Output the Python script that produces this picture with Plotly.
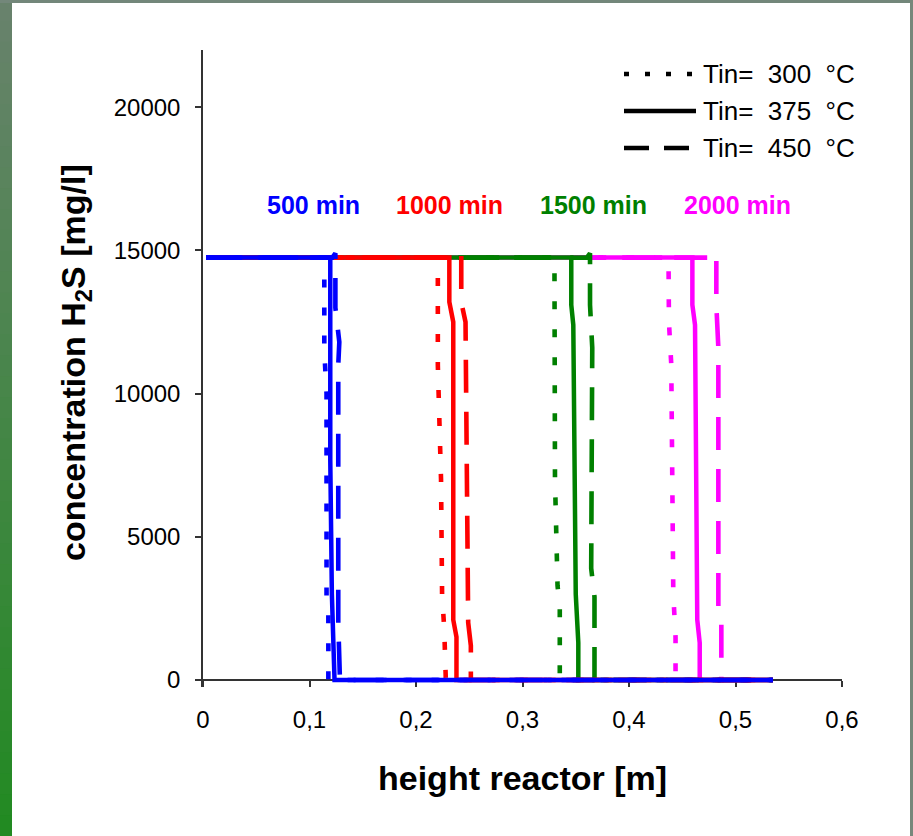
import plotly.graph_objects as go

# H2S concentration profiles along the reactor height at four times,
# for three inlet temperatures each.
times_min = [500, 1000, 1500, 2000]
time_colors = ["#0000FF", "#FF0000", "#008000", "#FF00FF"]
tin_labels = ["Tin= 300 °C", "Tin= 375 °C", "Tin= 450 °C"]

x_tickvals = [0, 0.1, 0.2, 0.3, 0.4, 0.5, 0.6]
x_ticktext = ["0", "0,1", "0,2", "0,3", "0,4", "0,5", "0,6"]
y_tickvals = [0, 5000, 10000, 15000, 20000]
y_ticktext = ["0", "5000", "10000", "15000", "20000"]

# 500 min
h_500_300 = [0.003, 0.1139, 0.1139, 0.1160, 0.1160, 0.1177, 0.1177, 0.535]
c_500_300 = [14750, 14750, 11500, 10000, 2800, 2500, 0, 0]
h_500_375 = [0.003, 0.1195, 0.1195, 0.1210, 0.1235, 0.535]
c_500_375 = [14750, 14750, 7700, 3000, 0, 0]
h_500_450 = [0.003, 0.1215, 0.1243, 0.1243, 0.1280, 0.1270, 0.1270, 0.1286, 0.1286, 0.535]
c_500_450 = [14750, 14750, 14900, 13000, 11800, 11000, 2000, 800, 0, 0]

# 1000 min
h_1000_300 = [0.003, 0.2205, 0.2205, 0.2235, 0.2245, 0.2265, 0.2280, 0.535]
c_1000_300 = [14750, 14750, 11000, 7000, 3000, 1800, 0, 0]
h_1000_375 = [0.003, 0.2313, 0.2313, 0.2350, 0.2350, 0.2380, 0.2380, 0.535]
c_1000_375 = [14750, 14750, 13200, 12500, 2100, 1500, 0, 0]
h_1000_450 = [0.003, 0.2395, 0.2425, 0.2425, 0.2465, 0.2490, 0.2490, 0.2515, 0.2515, 0.535]
c_1000_450 = [14750, 14750, 14900, 13200, 12500, 4000, 2000, 1200, 0, 0]

# 1500 min
h_1500_300 = [0.003, 0.3300, 0.3305, 0.3329, 0.3350, 0.3350, 0.535]
c_1500_300 = [14750, 14750, 7000, 3300, 2500, 0, 0]
h_1500_375 = [0.003, 0.3458, 0.3458, 0.3477, 0.3500, 0.3524, 0.3524, 0.535]
c_1500_375 = [14750, 14750, 13100, 12400, 3000, 1300, 0, 0]
h_1500_450 = [0.003, 0.3605, 0.3634, 0.3634, 0.3655, 0.3645, 0.3676, 0.3676, 0.535]
c_1500_450 = [14750, 14750, 14900, 13100, 11600, 3900, 2900, 0, 0]

# 2000 min
h_2000_300 = [0.003, 0.4371, 0.4375, 0.4397, 0.4416, 0.4437, 0.4437, 0.535]
c_2000_300 = [14750, 14750, 12500, 11000, 3000, 1500, 0, 0]
h_2000_375 = [0.003, 0.4595, 0.4595, 0.4620, 0.4641, 0.4664, 0.4664, 0.535]
c_2000_375 = [14750, 14750, 13100, 12400, 2100, 1300, 0, 0]
h_2000_450 = [0.003, 0.4790, 0.4820, 0.4820, 0.4839, 0.4839, 0.4867, 0.4867, 0.535]
c_2000_450 = [14750, 14750, 14900, 13100, 11600, 2500, 2000, 0, 0]

profiles = {
    500: [(h_500_300, c_500_300), (h_500_375, c_500_375), (h_500_450, c_500_450)],
    1000: [(h_1000_300, c_1000_300), (h_1000_375, c_1000_375), (h_1000_450, c_1000_450)],
    1500: [(h_1500_300, c_1500_300), (h_1500_375, c_1500_375), (h_1500_450, c_1500_450)],
    2000: [(h_2000_300, c_2000_300), (h_2000_375, c_2000_375), (h_2000_450, c_2000_450)],
}

# time labels placed above each front
label_x = [0.1033, 0.2315, 0.3667, 0.5023]
label_y = 16580

FONT = "Liberation Sans, Arial, sans-serif"
W, H = 913, 836
ML, MR, MT, MB = 203, 71, 50, 149
PW, PH = W - ML - MR, H - MT - MB

# a few pixels of room under y = 0 so the zero-level lines are not cut
BELOW_ZERO_PX = 7
Y_TOP = 22000
y_per_px = Y_TOP / (PH - BELOW_ZERO_PX)
Y_BOTTOM = -BELOW_ZERO_PX * y_per_px


def px_x(px):
    return (px - ML) / PW


def px_y(py):
    return (H - MB - py) / PH


dash_styles = ["8px,20px", "solid", "33px,19px"]
widths = [4.6, 4.5, 4.6]

fig = go.Figure()

# later times drawn first so the earlier profiles sit on top
for t, col in reversed(list(zip(times_min, time_colors))):
    for (h, c), dash, w, name in zip(profiles[t], dash_styles, widths, tin_labels):
        fig.add_trace(go.Scatter(
            x=h, y=c, mode="lines",
            line=dict(color=col, width=w, dash=dash),
            name=f"{t} min, {name}", showlegend=False, hoverinfo="skip",
        ))

for t, col, lx in zip(times_min, time_colors, label_x):
    fig.add_annotation(
        x=lx, y=label_y, xref="x", yref="y", text=f"<b>{t} min</b>",
        showarrow=False, font=dict(family=FONT, size=25, color=col),
        xanchor="center", yanchor="middle",
    )

shapes = []

# frame around the page: green band on the left, grey-green on top and right
n_band = 40
top_rgb = (104, 130, 108)
bot_rgb = (34, 138, 34)
for i in range(n_band):
    f = i / (n_band - 1)
    rgb = tuple(round(a + (b - a) * f) for a, b in zip(top_rgb, bot_rgb))
    y0 = i * H / n_band
    y1 = (i + 1) * H / n_band + 1
    shapes.append(dict(
        type="rect", xref="paper", yref="paper",
        x0=px_x(0), x1=px_x(12), y0=px_y(y1), y1=px_y(y0),
        fillcolor="rgb(%d,%d,%d)" % rgb, line=dict(width=0), layer="below",
    ))
shapes.append(dict(type="rect", xref="paper", yref="paper",
                   x0=px_x(0), x1=px_x(W), y0=px_y(3), y1=px_y(0),
                   fillcolor="#73877a", line=dict(width=0), layer="below"))
shapes.append(dict(type="rect", xref="paper", yref="paper",
                   x0=px_x(910), x1=px_x(W), y0=px_y(H), y1=px_y(0),
                   fillcolor="#77887b", line=dict(width=0), layer="below"))

# legend keys for the three inlet temperatures
NB = "\u00a0"
legend_rows = [74, 111, 148]
legend_dash = ["5px,16px", "solid", "25px,15px"]
legend_text = [lab.replace("= ", "=" + NB * 2).replace(" °", NB * 2 + "°") for lab in tin_labels]
for row, dash, lab in zip(legend_rows, legend_dash, legend_text):
    shapes.append(dict(
        type="line", xref="paper", yref="paper",
        x0=px_x(624), x1=px_x(696), y0=px_y(row), y1=px_y(row),
        line=dict(color="black", width=4.5, dash=dash),
    ))
    fig.add_annotation(
        x=px_x(701), y=px_y(row), xref="paper", yref="paper", text=lab,
        showarrow=False, font=dict(family=FONT, size=26, color="black"),
        xanchor="left", yanchor="middle",
    )

# axis titles
fig.add_annotation(
    x=px_x(75), y=px_y(363), xref="paper", yref="paper",
    text="<b>concentration H<sub>2</sub>S [mg/l]</b>", textangle=-90,
    showarrow=False, font=dict(family=FONT, size=34, color="black"),
    xanchor="center", yanchor="middle",
)
fig.add_annotation(
    x=px_x(522), y=px_y(778), xref="paper", yref="paper",
    text="<b>height reactor [m]</b>",
    showarrow=False, font=dict(family=FONT, size=34, color="black"),
    xanchor="center", yanchor="middle",
)

axis_common = dict(
    showgrid=False, zeroline=False, showline=True, linecolor="#333333",
    linewidth=1.5, ticks="outside", ticklen=6, tickwidth=1.5,
    tickcolor="#333333", tickfont=dict(family=FONT, size=24, color="black"),
    fixedrange=True, layer="below traces",
)

fig.update_layout(
    width=W, height=H,
    margin=dict(l=ML, r=MR, t=MT, b=MB, pad=0),
    paper_bgcolor="white", plot_bgcolor="white",
    showlegend=False,
    shapes=shapes,
    # the height axis sits on y = 0, slightly above the bottom of the plot area
    xaxis=dict(range=[0, 0.6], tickvals=x_tickvals, ticktext=x_ticktext,
               anchor="free", position=BELOW_ZERO_PX / PH,
               ticklabelstandoff=12, **axis_common),
    yaxis=dict(range=[Y_BOTTOM, Y_TOP], tickvals=y_tickvals, ticktext=y_ticktext,
               ticklabelstandoff=10, **axis_common),
)

fig.write_html("out.html")
